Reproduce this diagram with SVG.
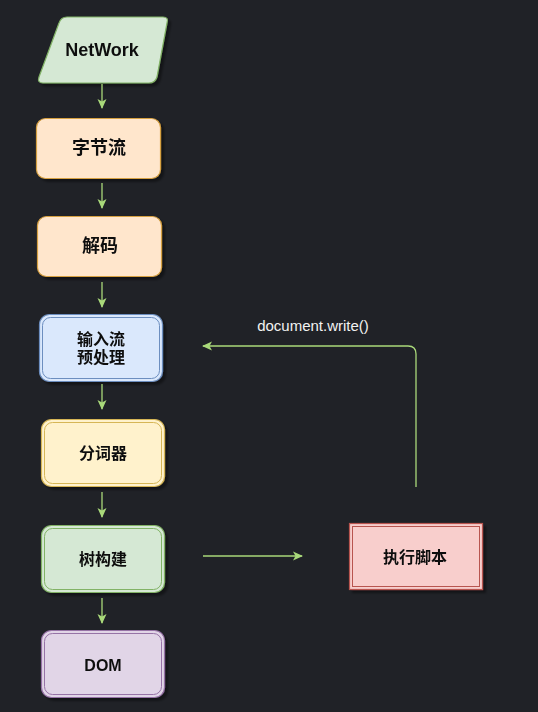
<svg xmlns="http://www.w3.org/2000/svg" width="538" height="712" viewBox="0 0 538 712">
  <style>
    .lbl { font-family: "Liberation Sans", "Noto Sans CJK SC", sans-serif; font-size: 16px; font-weight: bold; fill: #111; text-anchor: middle; dominant-baseline: central; }
    .big { font-size: 18px; }
    .edge { fill: none; stroke: #a9d97a; stroke-width: 1.3; }
    .inner { fill: none; stroke-width: 1; }
    .note { font-family: "Liberation Sans", "Noto Sans CJK SC", sans-serif; font-size: 15px; fill: #f2f2f2; text-anchor: middle; }
  </style>
  <defs>
    <marker id="arr" viewBox="0 0 10 10" refX="9" refY="5" markerWidth="10" markerHeight="10" markerUnits="userSpaceOnUse" orient="auto">
      <path d="M0,0.5 L10,5 L0,9.5 L2.5,5 Z" fill="#a9d97a"/>
    </marker>
    <filter id="sh" x="-10%" y="-10%" width="130%" height="130%">
      <feDropShadow dx="3" dy="3" stdDeviation="1" flood-color="#000" flood-opacity="0.4"/>
    </filter>
  </defs>
  <rect width="538" height="712" fill="#202227"/>

  <g id="n-network" filter="url(#sh)">
    <path d="M67,17 L163,17 Q169,17 167,23 L157,77 Q155,83 149,83 L43,83 Q37,83 39,77 L59,23 Q61,17 67,17 Z" fill="#d5e8d4" stroke="#82b366" stroke-width="1.2"/>
    <text class="lbl big" x="102" y="50">NetWork</text>
  </g>

  <g id="n-bytes" filter="url(#sh)">
    <rect x="36.5" y="118.5" width="124" height="60" rx="9" fill="#ffe6cc" stroke="#d6a040" stroke-width="1.2"/>
    <text class="lbl big" x="99" y="148">字节流</text>
  </g>

  <g id="n-decode" filter="url(#sh)">
    <rect x="37.5" y="216.5" width="124" height="60" rx="9" fill="#ffe6cc" stroke="#d6a040" stroke-width="1.2"/>
    <text class="lbl big" x="100" y="246">解码</text>
  </g>

  <g id="n-preprocess" filter="url(#sh)">
    <rect x="39.5" y="314.5" width="123" height="67" rx="10" fill="#dae8fc" stroke="#6c8ebf" stroke-width="1.2"/>
    <rect x="42.5" y="317.5" width="117" height="61" rx="8" class="inner" stroke="#6c8ebf"/>
    <text class="lbl" x="101" y="339">输入流</text>
    <text class="lbl" x="101" y="357">预处理</text>
  </g>

  <g id="n-tokenizer" filter="url(#sh)">
    <rect x="41.5" y="419.5" width="123" height="67" rx="10" fill="#fff2cc" stroke="#d6b656" stroke-width="1.2"/>
    <rect x="44.5" y="422.5" width="117" height="61" rx="8" class="inner" stroke="#d6b656"/>
    <text class="lbl" x="103" y="453">分词器</text>
  </g>

  <g id="n-tree" filter="url(#sh)">
    <rect x="41.5" y="525.5" width="123" height="67" rx="10" fill="#d5e8d4" stroke="#82b366" stroke-width="1.2"/>
    <rect x="44.5" y="528.5" width="117" height="61" rx="8" class="inner" stroke="#82b366"/>
    <text class="lbl" x="103" y="559">树构建</text>
  </g>

  <g id="n-dom" filter="url(#sh)">
    <rect x="41.5" y="630.5" width="123" height="67" rx="10" fill="#e1d5e7" stroke="#9673a6" stroke-width="1.2"/>
    <rect x="44.5" y="633.5" width="117" height="61" rx="8" class="inner" stroke="#9673a6"/>
    <text class="lbl" x="103" y="665">DOM</text>
  </g>

  <g id="n-script" filter="url(#sh)">
    <rect x="349.5" y="523.5" width="133" height="66" fill="#f8cecc" stroke="#b85450" stroke-width="1.2"/>
    <rect x="352.5" y="526.5" width="127" height="60" class="inner" stroke="#b85450"/>
    <text class="lbl" x="415" y="557">执行脚本</text>
  </g>

  <g id="edges">
    <line class="edge" x1="102" y1="84" x2="102" y2="108" marker-end="url(#arr)"/>
    <line class="edge" x1="102" y1="183" x2="102" y2="208" marker-end="url(#arr)"/>
    <line class="edge" x1="102" y1="282" x2="102" y2="307" marker-end="url(#arr)"/>
    <line class="edge" x1="102" y1="384" x2="102" y2="409" marker-end="url(#arr)"/>
    <line class="edge" x1="102" y1="492" x2="102" y2="517" marker-end="url(#arr)"/>
    <line class="edge" x1="102" y1="598" x2="102" y2="623" marker-end="url(#arr)"/>
    <line class="edge" x1="203" y1="556" x2="302" y2="556" marker-end="url(#arr)"/>
    <path class="edge" d="M416,487 L416,354 Q416,346 408,346 L203,346" marker-end="url(#arr)"/>
    <text class="note" x="313" y="331">document.write()</text>
  </g>
</svg>
